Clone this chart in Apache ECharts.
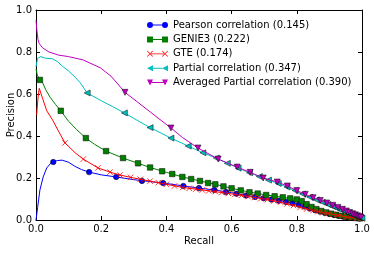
<!DOCTYPE html>
<html><head><meta charset="utf-8">
<script src="https://cdn.jsdelivr.net/npm/echarts@6/dist/echarts.min.js"></script>
<style>html,body{margin:0;padding:0;background:#fff}#c{width:374px;height:253px}</style>
</head><body><div id="c"></div>
<script>
const xTicks = [0, 0.2, 0.4, 0.6, 0.8, 1.0];
const yTicks = [0, 0.2, 0.4, 0.6, 0.8, 1.0];
const seriesNames = ['Pearson correlation (0.145)', 'GENIE3 (0.222)', 'GTE (0.174)', 'Partial correlation (0.347)', 'Averaged Partial correlation (0.390)'];

// Pearson
const pearsonR = [0,0.005,0.012,0.022,0.033,0.045,0.053,0.065,0.08,0.1,0.12,0.14,0.163,0.2,0.246,0.3,0.35,0.4,0.452,0.5,0.547,0.6,0.65,0.7,0.75,0.8,0.85,0.9,0.95,1.0];
const pearsonP = [0,0.06,0.143,0.205,0.248,0.27,0.276,0.283,0.285,0.275,0.255,0.24,0.228,0.215,0.205,0.192,0.183,0.174,0.162,0.152,0.143,0.13,0.116,0.103,0.092,0.075,0.048,0.029,0.014,0.006];
const pearsonMR = [0.053,0.163,0.246,0.325,0.39,0.452,0.5,0.547,0.583,0.615,0.645,0.672,0.698,0.722,0.745,0.767,0.787,0.806,0.824,0.84,0.856,0.871,0.886,0.9,0.914,0.927,0.94,0.952,0.963,0.974,0.984,0.993];
const pearsonMP = [0.276,0.228,0.205,0.186,0.176,0.162,0.152,0.143,0.133,0.125,0.117,0.11,0.104,0.098,0.092,0.086,0.08,0.073,0.064,0.055,0.047,0.04,0.034,0.029,0.024,0.02,0.017,0.014,0.012,0.01,0.008,0.007];

// GENIE3
const genieR = [0,0.004,0.012,0.02,0.03,0.043,0.06,0.076,0.1,0.125,0.153,0.18,0.215,0.267,0.313,0.35,0.4,0.449,0.503,0.55,0.6,0.657,0.708,0.757,0.8,0.82,0.85,0.9,0.95,1.0];
const genieP = [0.72,0.69,0.667,0.655,0.62,0.585,0.55,0.52,0.47,0.43,0.39,0.36,0.328,0.295,0.27,0.25,0.227,0.205,0.186,0.17,0.151,0.132,0.119,0.108,0.098,0.085,0.058,0.032,0.016,0.008];
const genieMR = [0.012,0.076,0.153,0.215,0.267,0.313,0.35,0.387,0.418,0.449,0.476,0.503,0.528,0.55,0.575,0.6,0.628,0.655,0.68,0.706,0.732,0.757,0.78,0.8,0.815,0.83,0.845,0.86,0.875,0.89,0.905,0.92,0.935,0.95,0.965,0.98,0.995];
const genieMP = [0.667,0.52,0.39,0.328,0.295,0.27,0.25,0.232,0.219,0.205,0.195,0.186,0.176,0.17,0.16,0.151,0.141,0.132,0.126,0.119,0.113,0.108,0.103,0.098,0.09,0.075,0.062,0.052,0.043,0.036,0.03,0.025,0.02,0.016,0.013,0.01,0.008];

// GTE
const gteR = [0.002,0.006,0.01,0.02,0.033,0.051,0.07,0.089,0.12,0.145,0.19,0.227,0.258,0.3,0.35,0.4,0.45,0.5,0.55,0.6,0.65,0.7,0.75,0.8,0.85,0.9,0.95,1.0];
const gteP = [0.5,0.58,0.627,0.58,0.52,0.476,0.42,0.367,0.32,0.29,0.248,0.228,0.214,0.2,0.185,0.17,0.155,0.145,0.135,0.124,0.112,0.1,0.085,0.065,0.045,0.03,0.015,0.006];
const gteMR = [0.089,0.145,0.19,0.227,0.258,0.29,0.32,0.35,0.375,0.4,0.425,0.45,0.47,0.49,0.51,0.53,0.55,0.57,0.59,0.61,0.63,0.65,0.67,0.69,0.71,0.73,0.75,0.77,0.79,0.81,0.83,0.85,0.865,0.88,0.895,0.91,0.925,0.94,0.955,0.97,0.985,1.0];
const gteMP = [0.367,0.29,0.248,0.228,0.214,0.203,0.194,0.185,0.178,0.17,0.162,0.155,0.151,0.147,0.143,0.139,0.135,0.131,0.127,0.122,0.117,0.112,0.107,0.102,0.097,0.091,0.085,0.077,0.069,0.06,0.052,0.045,0.04,0.035,0.031,0.027,0.022,0.018,0.014,0.01,0.008,0.006];

// Partial correlation
const partialR = [0,0.005,0.015,0.03,0.05,0.065,0.083,0.1,0.12,0.135,0.157,0.2,0.235,0.271,0.31,0.35,0.414,0.467,0.512,0.553,0.62,0.685,0.743,0.8,0.85,0.9,0.95,1.0];
const partialP = [0.73,0.77,0.778,0.77,0.768,0.755,0.73,0.71,0.68,0.655,0.605,0.568,0.54,0.51,0.475,0.44,0.39,0.352,0.32,0.295,0.247,0.207,0.174,0.135,0.1,0.066,0.035,0.01];
const partialMR = [0.157,0.271,0.35,0.414,0.467,0.512,0.553,0.587,0.62,0.655,0.685,0.713,0.743,0.77,0.795,0.818,0.84,0.86,0.878,0.895,0.91,0.924,0.937,0.949,0.959,0.968,0.976,0.983,0.989,0.995,1.0];
const partialMP = [0.605,0.51,0.44,0.39,0.352,0.32,0.295,0.27,0.247,0.225,0.207,0.19,0.174,0.157,0.14,0.124,0.109,0.096,0.085,0.074,0.064,0.055,0.047,0.04,0.033,0.027,0.022,0.018,0.014,0.011,0.009];

// Averaged Partial correlation
const avgR = [0,0.003,0.006,0.01,0.02,0.04,0.07,0.1,0.145,0.197,0.23,0.273,0.35,0.414,0.45,0.497,0.559,0.617,0.657,0.697,0.74,0.771,0.8,0.85,0.9,0.95,1.0];
const avgP = [0.95,0.9,0.86,0.84,0.82,0.8,0.785,0.778,0.762,0.725,0.685,0.608,0.515,0.438,0.392,0.343,0.29,0.252,0.227,0.2,0.181,0.162,0.14,0.106,0.076,0.045,0.011];
const avgMR = [0.273,0.414,0.497,0.559,0.617,0.657,0.697,0.74,0.771,0.8,0.826,0.85,0.872,0.892,0.91,0.926,0.94,0.952,0.962,0.971,0.979,0.986,0.992,0.997];
const avgMP = [0.608,0.438,0.343,0.29,0.252,0.227,0.2,0.181,0.162,0.14,0.122,0.106,0.093,0.081,0.07,0.06,0.051,0.043,0.036,0.03,0.025,0.02,0.016,0.013];

const FONT = 'DejaVu Sans';
const zip = (a, b) => a.map((v, i) => [v, b[i]]);

const defs = [
  {name: seriesNames[0], color: '#0000ff', r: pearsonR, p: pearsonP, mr: pearsonMR, mp: pearsonMP, symbol: 'circle', size: 5.5, rot: 0,
   icon: 'path://M3,0A3,3 0 1,1 3,6A3,3 0 1,1 3,0ZM18,0A3,3 0 1,1 18,6A3,3 0 1,1 18,0ZM6,2.5L15,2.5L15,3.5L6,3.5Z'},
  {name: seriesNames[1], color: '#008000', r: genieR, p: genieP, mr: genieMR, mp: genieMP, symbol: 'rect', size: 5.5, rot: 0,
   icon: 'path://M0,0L6,0L6,6L0,6ZM15,0L21,0L21,6L15,6ZM6,2.5L15,2.5L15,3.5L6,3.5Z'},
  {name: seriesNames[2], color: '#ff0000', r: gteR, p: gteP, mr: gteMR, mp: gteMP, symbol: 'path://M0,0L10,10M10,0L0,10', size: 5.5, rot: 0,
   icon: 'path://M0,0.5L0.5,0L6,5.5L5.5,6ZM5.5,0L6,0.5L0.5,6L0,5.5ZM15,0.5L15.5,0L21,5.5L20.5,6ZM20.5,0L21,0.5L15.5,6L15,5.5ZM4,2.6L17,2.6L17,3.4L4,3.4Z'},
  {name: seriesNames[3], color: '#00bfbf', r: partialR, p: partialP, mr: partialMR, mp: partialMP, symbol: 'triangle', size: 6, rot: 90,
   icon: 'path://M0,3L6,0L6,6ZM15,3L21,0L21,6ZM6,2.5L15,2.5L15,3.5L6,3.5Z'},
  {name: seriesNames[4], color: '#bf00bf', r: avgR, p: avgP, mr: avgMR, mp: avgMP, symbol: 'triangle', size: 6, rot: 180,
   icon: 'path://M0,0L6,0L3,6ZM15,0L21,0L18,6ZM4.5,2.5L16.5,2.5L16.5,3.5L4.5,3.5Z'}
];

const series = [];
defs.forEach((d, i) => {
  series.push({
    type: 'line', name: d.name, data: zip(d.r, d.p), symbol: 'none', showSymbol: false,
    lineStyle: {color: d.color, width: 1}, itemStyle: {color: d.color}, z: 2 + i * 2, silent: true
  });
  const isX = d.symbol.indexOf('path://') === 0;
  series.push({
    type: 'scatter', name: d.name, data: zip(d.mr, d.mp), symbol: d.symbol, symbolSize: d.size, symbolRotate: d.rot,
    itemStyle: isX ? {color: 'none', borderColor: d.color, borderWidth: 0.8, opacity: 1}
                   : {color: d.color, borderColor: '#000', borderWidth: 0.5, opacity: 1},
    z: 3 + i * 2, silent: true
  });
});

const axisCommon = {
  type: 'value', min: 0, max: 1, interval: 0.2,
  axisLine: {show: true, onZero: false, lineStyle: {color: '#000', width: 1}},
  axisTick: {show: true, inside: true, length: 4, lineStyle: {color: '#000', width: 1}},
  splitLine: {show: false}
};
const fmt = v => v.toFixed(1);

const chart = echarts.init(document.getElementById('c'), null, {renderer: 'canvas'});
chart.setOption({
  animation: false,
  textStyle: {fontFamily: FONT},
  grid: {left: 36, right: 12, top: 10, bottom: 33, containLabel: false, outerBoundsMode: 'none'},
  xAxis: [
    Object.assign({}, axisCommon, {position: 'bottom', name: 'Recall', nameLocation: 'middle', nameGap: 16, nameMoveOverlap: false,
      nameTextStyle: {fontFamily: FONT, fontSize: 10, color: '#000'},
      axisLabel: {fontFamily: FONT, fontSize: 10, color: '#000', margin: 4, formatter: v => xTicks.includes(v) ? fmt(v) : ''}}),
    Object.assign({}, axisCommon, {position: 'top', axisLabel: {show: false}})
  ],
  yAxis: [
    Object.assign({}, axisCommon, {position: 'left', name: 'Precision', nameLocation: 'middle', nameGap: 20, nameMoveOverlap: false,
      nameTextStyle: {fontFamily: FONT, fontSize: 10, color: '#000'},
      axisLabel: {fontFamily: FONT, fontSize: 10, color: '#000', margin: 4, formatter: v => yTicks.includes(v) ? fmt(v) : ''}}),
    Object.assign({}, axisCommon, {position: 'right', axisLabel: {show: false}})
  ],
  legend: {
    left: 142, top: 14, orient: 'vertical', itemWidth: 21, itemHeight: 6, itemGap: 2.4,
    data: defs.map(d => ({name: d.name, icon: d.icon, itemStyle: {color: d.color, borderWidth: 0}})),
    textStyle: {fontFamily: FONT, fontSize: 10, color: '#000', lineHeight: 12, padding: [0, 0, 0, 0]},
    selectedMode: false
  },
  series: series
});
</script></body></html>
